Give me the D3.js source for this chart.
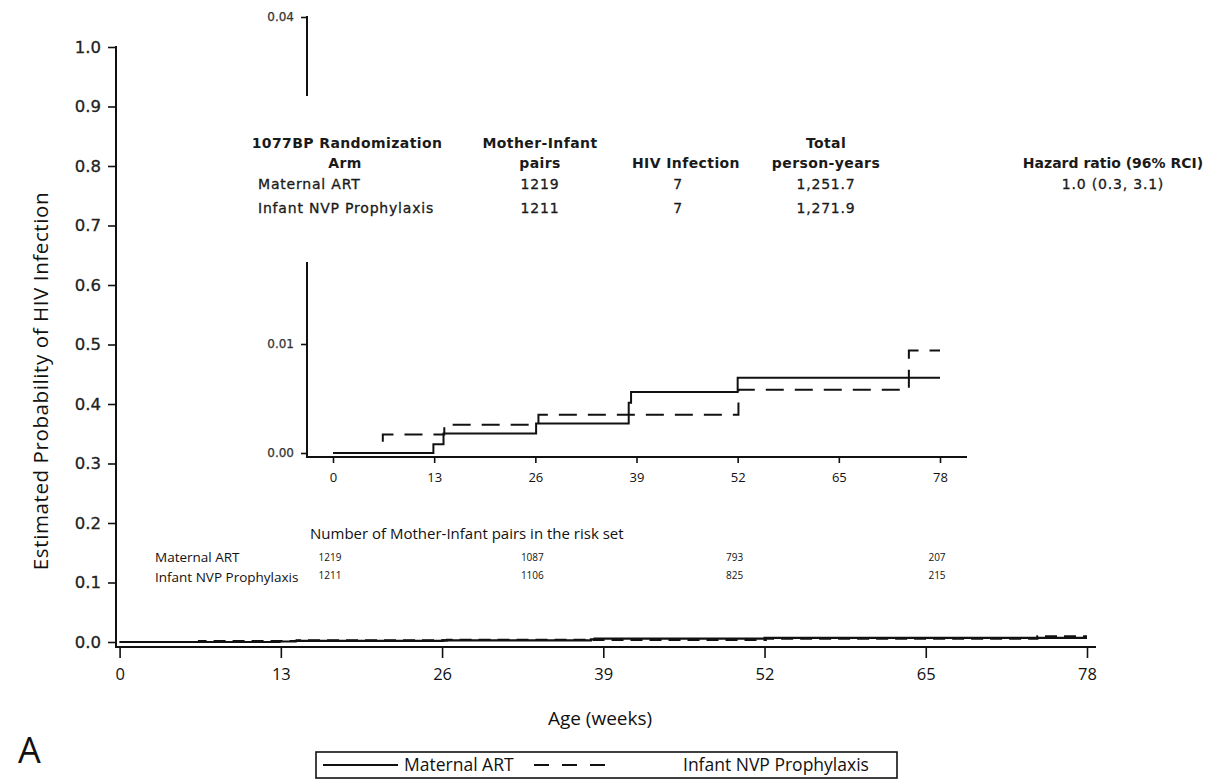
<!DOCTYPE html>
<html>
<head>
<meta charset="utf-8">
<script src="https://cdn.jsdelivr.net/npm/d3@7"></script>
<style>
  body { margin: 0; background: #fff; }
  svg { display: block; }
  .tbl { font-family: "DejaVu Sans", Verdana, sans-serif; fill: #1a1a1a; }
  .lab { font-family: "Open Sans", "Liberation Sans", sans-serif; fill: #111; }
</style>
</head>
<body>
<div id="chart"></div>
<script>
// week ticks shared by main chart and inset
const weekTicks = [0, 13, 26, 39, 52, 65, 78];
const probTicks = [0, 0.1, 0.2, 0.3, 0.4, 0.5, 0.6, 0.7, 0.8, 0.9, 1.0];
const insetProbTicks = [0, 0.01, 0.04];

// Kaplan-Meier steps
const artWeeks = [0, 12.9, 14.2, 26.1, 38.0, 38.3, 52.0, 78];
const artProb  = [0, 0.0008, 0.0018, 0.0027, 0.0046, 0.0056, 0.0069, 0.0069];
const nvpWeeks = [0, 6.4, 14.3, 26.4, 52.1, 74.0, 78];
const nvpProb  = [0, 0.0017, 0.0026, 0.0035, 0.0058, 0.0094, 0.0094];

// risk set
const riskWeeks = [0, 26, 52, 78];
const artRisk = [1219, 1087, 793, 207];
const nvpRisk = [1211, 1106, 825, 215];

// summary table
const arms = ["Maternal ART", "Infant NVP Prophylaxis"];
const pairs = ["1219", "1211"];
const infections = ["7", "7"];
const personYears = ["1,251.7", "1,271.9"];
const hazard = ["1.0 (0.3, 3.1)"];

const W = 1216, H = 780;
const svg = d3.select("#chart").append("svg")
    .attr("width", W).attr("height", H);
svg.append("rect").attr("width", W).attr("height", H).attr("fill", "#fff");

const art = artWeeks.map((w, i) => ({w: w, p: artProb[i]}));
const nvp = nvpWeeks.map((w, i) => ({w: w, p: nvpProb[i]}));

// ---------- main chart ----------
const x = d3.scaleLinear().domain([0, 78]).range([119.6, 1087]);
const y = d3.scaleLinear().domain([0, 1]).range([642, 47]);

let yax = svg.append("g")
    .attr("transform", "translate(116,0)")
    .call(d3.axisLeft(y).tickValues(probTicks).tickFormat(d3.format(".1f")).tickSize(8).tickSizeOuter(0));
yax.select(".domain").remove();
yax.selectAll("line").attr("stroke", "#111").attr("stroke-width", 1.6);
yax.selectAll("text").style("font-family", "'DejaVu Sans', sans-serif")
    .attr("font-size", 16.5).attr("x", -15).attr("fill", "#222")
    .attr("stroke", "#222").attr("stroke-width", 0.3);
svg.append("line").attr("x1", 116).attr("x2", 116).attr("y1", y(1) - 1).attr("y2", 648)
    .attr("stroke", "#111").attr("stroke-width", 2);

let xax = svg.append("g")
    .attr("transform", "translate(0,647)")
    .call(d3.axisBottom(x).tickValues(weekTicks).tickSize(11).tickSizeOuter(0));
xax.select(".domain").remove();
xax.selectAll("line").attr("stroke", "#111").attr("stroke-width", 1.6);
xax.selectAll("text").attr("class", "lab").attr("font-size", 16.5).attr("dy", "1.15em").attr("fill", "#222");
svg.append("line").attr("x1", 115).attr("x2", 1096).attr("y1", 647).attr("y2", 647)
    .attr("stroke", "#111").attr("stroke-width", 2);

const mainLine = d3.line().x(d => x(d.w)).y(d => y(d.p)).curve(d3.curveStepAfter);
svg.append("path").datum(nvp).attr("d", mainLine)
    .attr("fill", "none").attr("stroke", "#111").attr("stroke-width", 2.2)
    .attr("stroke-dasharray", "12,7");
svg.append("path").datum(art).attr("d", mainLine)
    .attr("fill", "none").attr("stroke", "#111").attr("stroke-width", 2.2);

svg.append("text").attr("class", "lab")
    .attr("transform", "translate(48,381) rotate(-90)")
    .attr("text-anchor", "middle").attr("font-size", 20.5).attr("letter-spacing", 0.6)
    .text("Estimated Probability of HIV Infection");

svg.append("text").attr("class", "lab")
    .attr("x", 600).attr("y", 725).attr("text-anchor", "middle").attr("font-size", 19)
    .text("Age (weeks)");

svg.append("text").attr("class", "lab")
    .attr("x", 18).attr("y", 763).attr("font-size", 36)
    .text("A");

// ---------- inset ----------
const ix = d3.scaleLinear().domain([0, 78]).range([333, 940]);
const iy = d3.scaleLinear().domain([0, 0.04]).range([453, 17]);

let iyax = svg.append("g")
    .attr("transform", "translate(307,0)")
    .call(d3.axisLeft(iy).tickValues(insetProbTicks).tickFormat(d3.format(".2f")).tickSize(6).tickSizeOuter(0));
iyax.select(".domain").remove();
iyax.selectAll("line").attr("stroke", "#111").attr("stroke-width", 1.6);
iyax.selectAll("text").style("font-family", "'DejaVu Sans', sans-serif")
    .attr("font-size", 12).attr("x", -13).attr("fill", "#333")
    .attr("stroke", "#333").attr("stroke-width", 0.25);
svg.append("line").attr("x1", 307).attr("x2", 307).attr("y1", iy(0.04) - 1).attr("y2", 458)
    .attr("stroke", "#111").attr("stroke-width", 2);

let ixax = svg.append("g")
    .attr("transform", "translate(0,457)")
    .call(d3.axisBottom(ix).tickValues(weekTicks).tickSize(6).tickSizeOuter(0));
ixax.select(".domain").remove();
ixax.selectAll("line").attr("stroke", "#111").attr("stroke-width", 1.6);
ixax.selectAll("text").attr("class", "lab").attr("font-size", 13).attr("dy", "1.2em").attr("fill", "#222");
svg.append("line").attr("x1", 306).attr("x2", 967).attr("y1", 457).attr("y2", 457)
    .attr("stroke", "#111").attr("stroke-width", 2);

const insetLine = d3.line().x(d => ix(d.w)).y(d => iy(d.p)).curve(d3.curveStepAfter);
svg.append("path").datum(nvp).attr("d", insetLine)
    .attr("fill", "none").attr("stroke", "#111").attr("stroke-width", 2)
    .attr("stroke-dasharray", "18,11").attr("stroke-dashoffset", -32);
svg.append("path").datum(art).attr("d", insetLine)
    .attr("fill", "none").attr("stroke", "#111").attr("stroke-width", 2);

// table sits on a white panel that interrupts the inset axis
svg.append("rect").attr("x", 240).attr("y", 96).attr("width", 970).attr("height", 166).attr("fill", "#fff");

const colX = {arm: 258, pairs: 540, inf: 683, py: 826, hr: 1113};
const hdr = svg.append("g").attr("class", "tbl").attr("font-size", 14).attr("font-weight", "bold")
    .attr("letter-spacing", 0.4).attr("text-anchor", "middle");
hdr.append("text").attr("x", 347).attr("y", 148).text("1077BP Randomization");
hdr.append("text").attr("x", 345).attr("y", 168).text("Arm");
hdr.append("text").attr("x", colX.pairs).attr("y", 148).text("Mother-Infant");
hdr.append("text").attr("x", colX.pairs).attr("y", 168).text("pairs");
hdr.append("text").attr("x", colX.inf + 3).attr("y", 168).text("HIV Infection");
hdr.append("text").attr("x", colX.py).attr("y", 148).text("Total");
hdr.append("text").attr("x", colX.py).attr("y", 168).text("person-years");
hdr.append("text").attr("x", colX.hr).attr("y", 168).attr("letter-spacing", 0).text("Hazard ratio (96% RCI)");

const rowY = [189, 213];
const rows = svg.append("g").attr("class", "tbl").attr("font-size", 14)
    .attr("letter-spacing", 0.8).attr("stroke", "#1a1a1a").attr("stroke-width", 0.3);
arms.forEach((a, i) => {
    rows.append("text").attr("x", colX.arm).attr("y", rowY[i]).text(a);
    rows.append("text").attr("x", colX.pairs).attr("y", rowY[i]).attr("text-anchor", "middle").text(pairs[i]);
    rows.append("text").attr("x", colX.inf - 5).attr("y", rowY[i]).attr("text-anchor", "middle").text(infections[i]);
    rows.append("text").attr("x", colX.py).attr("y", rowY[i]).attr("text-anchor", "middle").text(personYears[i]);
});
rows.append("text").attr("x", colX.hr).attr("y", rowY[0]).attr("text-anchor", "middle").text(hazard[0]);

// risk set table
svg.append("text").attr("class", "lab").attr("x", 310).attr("y", 539).attr("font-size", 15)
    .text("Number of Mother-Infant pairs in the risk set");
svg.append("text").attr("class", "lab").attr("x", 155).attr("y", 562).attr("font-size", 13.5).text(arms[0]);
svg.append("text").attr("class", "lab").attr("x", 155).attr("y", 582).attr("font-size", 13.5).text("Infant  NVP Prophylaxis");

const risk = svg.append("g").attr("class", "lab").attr("font-size", 10).attr("text-anchor", "middle");
risk.selectAll(".r1").data(riskWeeks).enter().append("text")
    .attr("x", d => ix(d) - 3).attr("y", 561).text((d, i) => artRisk[i]);
risk.selectAll(".r2").data(riskWeeks).enter().append("text")
    .attr("x", d => ix(d) - 3).attr("y", 579).text((d, i) => nvpRisk[i]);

// ---------- legend ----------
const leg = svg.append("g");
leg.append("rect").attr("x", 316).attr("y", 752).attr("width", 581).attr("height", 26)
    .attr("fill", "#fff").attr("stroke", "#111").attr("stroke-width", 1.6);
leg.append("line").attr("x1", 323).attr("x2", 398).attr("y1", 765).attr("y2", 765)
    .attr("stroke", "#111").attr("stroke-width", 1.8);
leg.append("line").attr("x1", 534).attr("x2", 605).attr("y1", 765).attr("y2", 765)
    .attr("stroke", "#111").attr("stroke-width", 1.8).attr("stroke-dasharray", "15,13");
leg.append("text").attr("class", "lab").attr("x", 404).attr("y", 771).attr("font-size", 17.5).text(arms[0]);
leg.append("text").attr("class", "lab").attr("x", 683).attr("y", 771).attr("font-size", 17.5).text(arms[1]);
</script>
</body>
</html>
